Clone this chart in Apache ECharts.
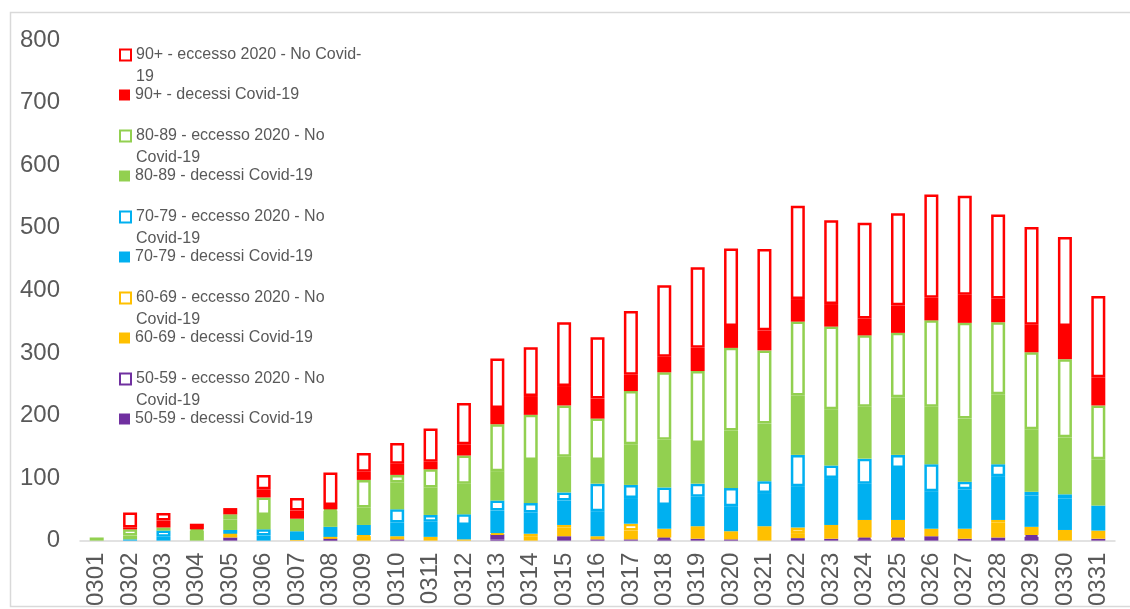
<!DOCTYPE html>
<html>
<head>
<meta charset="utf-8">
<script src="https://cdn.jsdelivr.net/npm/echarts@6/dist/echarts.min.js"></script>
<style>
  html, body { margin: 0; padding: 0; background: #fff; }
  #chart { width: 1130px; height: 609px; }
</style>
</head>
<body>
<div id="chart"></div>
<script>
// giorni di marzo
const days = ['0301','0302','0303','0304','0305','0306','0307','0308','0309','0310',
  '0311','0312','0313','0314','0315','0316','0317','0318','0319','0320',
  '0321','0322','0323','0324','0325','0326','0327','0328','0329','0330','0331'];

// 50-59
const dec5059 = [0,0,0,0,1,0,0,2,0,2, 0,0,2,0,7,2,2,2,3,2, 0,4,3,2,2,7,3,5,6,0,3];
const ecc5059 = [0,0,0,0,4,0,0,1,0,0, 0,0,8,0,0,0,0,3,0,0, 0,0,0,3,3,0,0,0,3,0,0];
// 60-69
const dec6069 = [0,0,0,0,5,0,1,2,7,5, 6,2,0,7,14,5,14,14,20,13, 23,8,22,28,28,12,16,24,13,17,13];
const ecc6069 = [0,0,0,0,1,0,0,1,2,0, 0,0,2,4,4,0,11,0,0,0, 0,9,0,0,0,0,0,4,0,0,0];
// 70-79
const dec7079 = [0,2,6,0,6,8,14,16,16,22, 24,23,36,34,39,40,41,38,47,40, 53,66,75,58,83,60,63,70,50,50,40];
const ecc7079 = [0,0,10,0,0,10,0,0,0,21, 11,17,16,15,13,44,21,28,21,29, 19,50,20,40,21,43,12,19,6,7,0];
// 80-89
const dec8089 = [5,6,5,16,17,23,20,26,28,43, 44,49,47,69,57,38,65,76,65,92, 92,95,90,83,92,92,101,112,100,91,74];
const ecc8089 = [0,10,0,2,8,28,0,2,44,12, 29,45,75,72,82,66,85,108,115,132, 117,118,132,114,103,138,153,115,123,125,86];
// 90+
const dec90 = [0,3,11,9,10,13,13,7,13,18, 12,18,26,30,31,32,26,25,37,35, 32,36,36,27,44,36,45,38,44,53,45];
const ecc90 = [0,24,12,0,0,23,20,52,30,33, 53,66,79,78,102,98,102,114,129,124, 130,149,134,153,147,165,158,134,156,142,130];

const groups = [
  { age: '50-59', color: '#7030A0', dec: dec5059, ecc: ecc5059 },
  { age: '60-69', color: '#FFC000', dec: dec6069, ecc: ecc6069 },
  { age: '70-79', color: '#00B0F0', dec: dec7079, ecc: ecc7079 },
  { age: '80-89', color: '#92D050', dec: dec8089, ecc: ecc8089 },
  { age: '90+', color: '#FF0000', dec: dec90, ecc: ecc90 }
];

const textColor = '#595959';
const axisFont = 'Liberation Sans Narrow, Arial Narrow, sans-serif';
const legendFont = 'Liberation Sans, Arial, sans-serif';

const series = [];
const legends = [];
groups.forEach((g, i) => {
  const decName = g.age + ' - decessi Covid-19';
  const eccName = g.age + ' - eccesso 2020 - No Covid-19';
  series.push({
    name: decName,
    type: 'bar',
    stack: 'tot',
    barWidth: 14,
    itemStyle: { color: g.color },
    data: g.dec.map(v => (v === 0 ? null : v))
  });
  series.push({
    name: eccName,
    type: 'bar',
    stack: 'tot',
    barWidth: 14,
    itemStyle: { color: '#ffffff', borderColor: g.color, borderWidth: 2.5 },
    data: g.ecc.map(v => (v === 0 ? null : v))
  });

  // legenda: gruppi dall'alto (90+) verso il basso (50-59)
  const c = 55 + (4 - i) * 81;
  const wrap = g.age === '90+' ? ['90+ - eccesso 2020 - No Covid-', '19'] : [g.age + ' - eccesso 2020 - No', 'Covid-19'];
  legends.push({
    left: 119,
    top: c - 33,
    padding: 0,
    icon: 'rect',
    itemWidth: 11,
    itemHeight: 11,
    data: [eccName],
    itemStyle: { borderWidth: 2 },
    // riga vuota sopra: l'icona resta allineata alla prima riga
    formatter: () => ' \n' + wrap.join('\n'),
    textStyle: { color: textColor, fontSize: 16, fontFamily: legendFont, lineHeight: 22 }
  });
  legends.push({
    left: 119,
    top: c + 40 - 11,
    padding: 0,
    icon: 'rect',
    itemWidth: 11,
    itemHeight: 11,
    data: [decName],
    textStyle: { color: textColor, fontSize: 16, fontFamily: legendFont, lineHeight: 22 }
  });
});

const chart = echarts.init(document.getElementById('chart'));
chart.setOption({
  animation: false,
  graphic: [{
    type: 'rect',
    shape: { x: 10.5, y: 12.5, width: 1130, height: 594 },
    style: { fill: 'none', stroke: '#d9d9d9', lineWidth: 1.5 },
    silent: true
  }],
  legend: legends,
  grid: { left: 80, right: 15, top: 40, bottom: 67 },
  xAxis: {
    type: 'category',
    data: days,
    axisTick: { show: false },
    axisLine: { lineStyle: { color: '#d9d9d9', width: 1.5 } },
    axisLabel: { rotate: 90, color: textColor, fontSize: 24, fontFamily: axisFont, margin: 12, interval: 0 }
  },
  yAxis: {
    type: 'value',
    min: 0,
    max: 800,
    interval: 100,
    axisLine: { show: false },
    axisTick: { show: false },
    splitLine: { show: false },
    axisLabel: { color: textColor, fontSize: 24, fontFamily: axisFont, margin: 20 }
  },
  series: series
});
</script>
</body>
</html>
